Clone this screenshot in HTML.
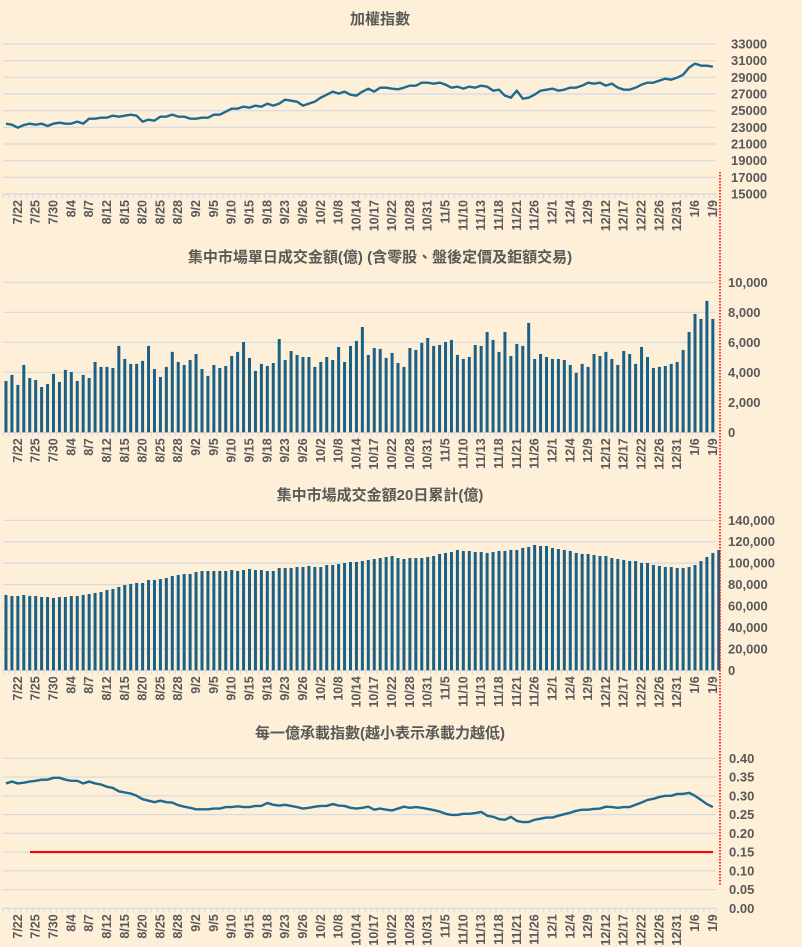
<!DOCTYPE html>
<html><head><meta charset="utf-8">
<style>
html,body{margin:0;padding:0;background:#fdefd8;}
svg{display:block;}
text{font-family:"Liberation Sans","Noto Sans CJK TC",sans-serif;fill:#595959;font-weight:bold;}
</style></head>
<body>
<svg id="chart" width="802" height="947" viewBox="0 0 802 947" xmlns="http://www.w3.org/2000/svg">
<rect width="802" height="947" fill="#fdefd8"/>
</svg>
<script>
const dates = ["7/22","7/25","7/30","8/4","8/7","8/12","8/15","8/20","8/25","8/28","9/2","9/5","9/10","9/15","9/18","9/23","9/26","10/2","10/8","10/14","10/17","10/22","10/28","10/31","11/5","11/10","11/13","11/18","11/21","11/26","12/1","12/4","12/9","12/12","12/17","12/22","12/26","12/31","1/6","1/9"];
const indexValues = [23440,23320,22960,23280,23440,23320,23440,23160,23440,23560,23440,23440,23680,23440,24040,24040,24160,24160,24400,24280,24400,24520,24400,23680,23920,23800,24280,24280,24520,24280,24280,24040,24040,24160,24160,24520,24520,24880,25240,25240,25480,25360,25600,25480,25840,25600,25840,26320,26200,26080,25600,25840,26080,26560,26920,27280,27040,27280,26920,26800,27280,27640,27280,27760,27760,27640,27560,27760,28000,28000,28360,28360,28240,28360,28120,27760,27880,27640,27880,27760,28000,27880,27400,27520,26800,26560,27400,26440,26560,26920,27400,27520,27640,27400,27520,27760,27760,28000,28360,28240,28360,28000,28240,27760,27520,27520,27760,28120,28360,28360,28600,28840,28720,28960,29320,30160,30640,30400,30400,30280];
const dailyVolume = [3.42,3.82,3.16,4.49,3.62,3.49,3.02,3.22,3.89,3.36,4.16,4.02,3.42,3.82,3.62,4.69,4.36,4.36,4.29,5.76,4.89,4.56,4.56,4.76,5.76,4.22,3.69,4.36,5.36,4.69,4.49,4.82,5.22,4.22,3.76,4.49,4.29,4.42,5.09,5.36,6.02,4.96,4.09,4.56,4.42,4.62,6.22,4.82,5.42,5.16,5.02,5.02,4.36,4.69,5.02,4.82,5.69,4.69,5.76,6.09,7.02,5.16,5.62,5.56,4.96,5.29,4.62,4.36,5.62,5.49,5.96,6.29,5.76,5.82,6.02,6.16,5.16,4.89,5.02,5.82,5.76,6.69,6.16,5.36,6.69,5.09,5.89,5.76,7.29,4.89,5.22,5.02,4.89,4.89,4.82,4.49,3.96,4.56,4.36,5.22,5.09,5.36,4.89,4.49,5.42,5.22,4.56,5.69,5.02,4.29,4.36,4.42,4.56,4.69,5.49,6.69,7.89,7.56,8.76,7.56];
const volume20d = [70.3,69.4,69.4,70.3,69.4,69.4,68.4,68.4,67.5,68.4,68.4,69.4,69.4,70.3,71.2,72.2,73.1,75.0,75.9,77.8,79.6,80.6,81.5,81.5,84.3,84.3,85.2,86.2,88.0,89.0,89.9,89.9,91.8,92.7,92.7,92.7,92.7,92.7,93.6,92.7,93.6,94.6,93.6,93.6,92.7,92.7,95.5,95.5,95.5,96.4,96.4,97.4,96.4,96.4,98.3,98.3,99.2,100.2,101.1,101.1,102.0,103.0,103.9,104.8,105.8,106.7,104.8,103.9,104.8,104.8,104.8,105.8,106.7,108.6,109.5,110.4,112.3,111.4,111.4,110.4,110.4,109.5,110.4,111.4,111.4,112.3,112.3,114.2,115.1,117.0,116.0,116.0,114.2,113.2,112.3,111.4,109.5,108.6,108.6,107.6,106.7,106.7,104.8,103.9,103.0,102.0,102.0,100.2,100.2,98.3,97.4,96.4,96.4,95.5,95.5,96.4,98.3,102.0,105.8,109.5,112.3].map(v=>v*1000);
const loadIndex = [0.333,0.338,0.333,0.335,0.338,0.340,0.343,0.343,0.348,0.348,0.343,0.340,0.340,0.333,0.338,0.333,0.330,0.324,0.321,0.312,0.309,0.306,0.300,0.291,0.287,0.283,0.287,0.283,0.282,0.275,0.271,0.268,0.264,0.264,0.264,0.266,0.266,0.270,0.270,0.272,0.270,0.270,0.273,0.273,0.281,0.276,0.274,0.276,0.273,0.270,0.266,0.268,0.271,0.273,0.273,0.278,0.274,0.273,0.268,0.266,0.268,0.271,0.263,0.266,0.263,0.261,0.266,0.271,0.268,0.270,0.268,0.265,0.262,0.258,0.252,0.249,0.249,0.252,0.252,0.254,0.257,0.247,0.244,0.238,0.236,0.244,0.233,0.230,0.230,0.236,0.239,0.242,0.242,0.247,0.251,0.255,0.260,0.263,0.263,0.265,0.266,0.271,0.270,0.268,0.270,0.270,0.276,0.282,0.289,0.292,0.297,0.300,0.300,0.305,0.305,0.308,0.300,0.289,0.278,0.270];
const threshold = 0.15;
const indexTicks = [15000,17000,19000,21000,23000,25000,27000,29000,31000,33000];
const dailyTicks = [0,2000,4000,6000,8000,10000];
const cumTicks = [0,20000,40000,60000,80000,100000,120000,140000];
const loadTicks = [0,0.05,0.10,0.15,0.20,0.25,0.30,0.35,0.40];

const NS="http://www.w3.org/2000/svg";
const svg=document.getElementById('chart');
const N=indexValues.length, X0=3, STEP=5.94;
function xAt(i){return X0+STEP*(i+0.5);}
function mk(tag,attrs,parent){const e=document.createElementNS(NS,tag);for(const k in attrs)e.setAttribute(k,attrs[k]);(parent||svg).appendChild(e);return e;}
function yScale(min,max,yMin,yMax){return v=>yMin-(v-min)/(max-min)*(yMin-yMax);}

function panel(p){
  const g=mk('g',{});
  
  
  const t=mk('text',{x:380,y:p.titleY,'text-anchor':'middle','font-size':15},g);
  t.textContent=p.title;
  
  
  const ys=yScale(p.min,p.max,p.yBottom,p.yTop);
  p.ticks.forEach(v=>{
    const y=ys(v);
    const gl=mk('line',{x1:X0,x2:716,y1:y,y2:y,stroke:'#d6d9de','stroke-width':1.2},g);
    
    
    const tl=mk('text',{x:p.labelX,y:y+4.5,'font-size':13},g);
    tl.textContent=p.fmt(v);
    
    
  });
  const ax=mk('line',{x1:X0,x2:716,y1:p.yBottom,y2:p.yBottom,stroke:'#d6d9de','stroke-width':1.2},g);
  
  
  for(let i=0;i<=N;i++){
    const x=X0+STEP*i;
    mk('line',{x1:x,x2:x,y1:p.yBottom,y2:p.yBottom+4,stroke:'#d6d9de','stroke-width':1},g);
  }
  dates.forEach((d,k)=>{
    const i=2+3*k, x=xAt(i)+4;
    const tl=mk('text',{x:x,y:p.yBottom+6,'font-size':12.5,'text-anchor':'end',transform:`rotate(-90 ${x} ${p.yBottom+6})`},g);
    tl.textContent=d;
    
    
  });
  if(p.type==='bar'){
    p.data.forEach((v,i)=>{
      const y=ys(v);
      const b=mk('rect',{x:xAt(i)-1.5,y:y,width:3,height:p.yBottom-y,fill:'#1b6185'},g);
      
      
    });
  } else {
    const pts=p.data.map((v,i)=>xAt(i).toFixed(2)+','+ys(v).toFixed(2)).join(' ');
    const l=mk('polyline',{points:pts,fill:'none',stroke:'#1f6a8f','stroke-width':2.4,'stroke-linejoin':'round'},g);
    
    
  }
  return ys;
}
panel({name:'taiex-chart',title:'加權指數',titleY:24,type:'line',data:indexValues,min:15000,max:33000,yBottom:194,yTop:44,ticks:indexTicks,labelX:731,fmt:v=>String(v)});
panel({name:'daily-volume-chart',title:'集中市場單日成交金額(億) (含零股、盤後定價及鉅額交易)',titleY:262,type:'bar',data:dailyVolume.map(v=>v*1000),min:0,max:10000,yBottom:432.3,yTop:282.3,ticks:dailyTicks,labelX:728,fmt:v=>v.toLocaleString('en-US')});
panel({name:'volume-20d-chart',title:'集中市場成交金額20日累計(億)',titleY:500,type:'bar',data:volume20d,min:0,max:140000,yBottom:670.3,yTop:520.3,ticks:cumTicks,labelX:728,fmt:v=>v.toLocaleString('en-US')});
const ys4=panel({name:'load-index-chart',title:'每一億承載指數(越小表示承載力越低)',titleY:738,type:'line',data:loadIndex,min:0,max:0.40,yBottom:908.3,yTop:758.3,ticks:loadTicks,labelX:729,fmt:v=>v.toFixed(2)});
const th=mk('line',{x1:30,x2:713,y1:ys4(threshold),y2:ys4(threshold),stroke:'#ff0000','stroke-width':2.2});


const dv=mk('line',{x1:720,x2:720,y1:172,y2:886,stroke:'#ff0000','stroke-width':1.6,'stroke-dasharray':'1.5 1.5'});


</script>
</body></html>
